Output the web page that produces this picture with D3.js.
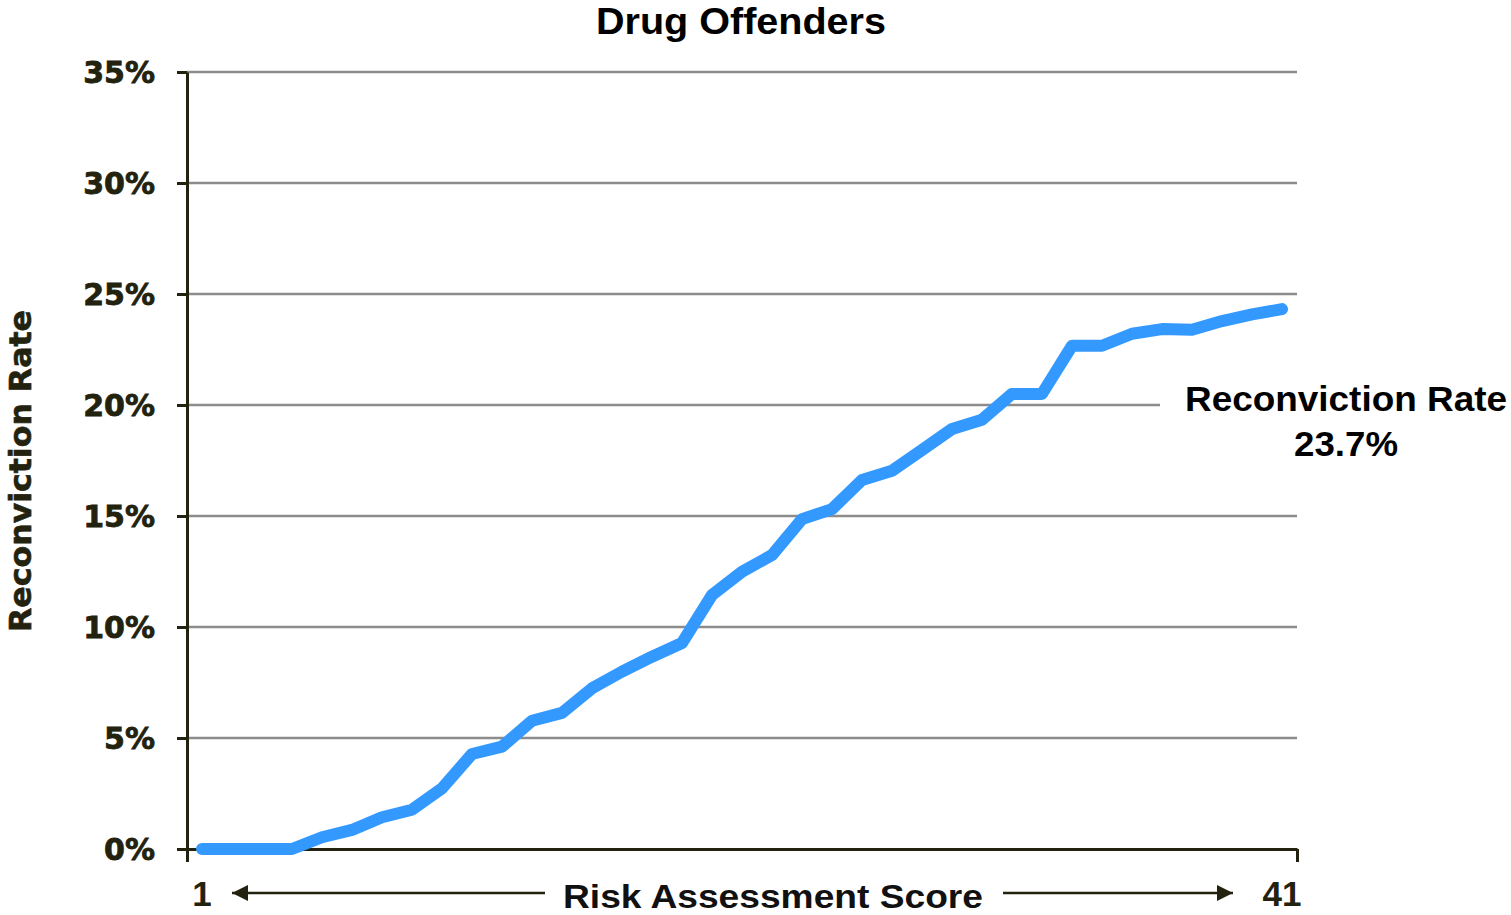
<!DOCTYPE html>
<html><head><meta charset="utf-8">
<script src="https://cdn.jsdelivr.net/npm/d3@7"></script>
<style>body{margin:0;background:#fff}svg{display:block}</style>
</head><body><svg id="c" width="1511" height="915"></svg>
<script>
// ---- data ----
const scoreBins = [1,2,3,4,5,6,7,8,9,10,11,12,13,14,15,16,17,18,19,20,21,22,23,24,25,26,27,28,29,30,31,32,33,34,35,36,37];
const reconvictionRate = [0,0,0,0,0.53,0.86,1.43,1.77,2.73,4.28,4.61,5.78,6.13,7.24,7.99,8.66,9.28,11.44,12.49,13.24,14.86,15.31,16.62,17.04,17.97,18.92,19.34,20.5,20.5,22.67,22.67,23.21,23.42,23.39,23.78,24.08,24.32];
const yTickValues = [0,5,10,15,20,25,30,35];
const xEndLabels = ["1","41"];
const titleText = "Drug Offenders";
const xAxisTitle = "Risk Assessment Score";
const yAxisTitle = "Reconviction Rate";
const annotationLines = ["Reconviction Rate","23.7%"];

// ---- layout ----
const L = 187, R = 1297, T = 72, B = 849;
const axisColor = "#22220e";
const svg = d3.select("#c");

const x = d3.scalePoint().domain(scoreBins).range([L, R]).padding(0.5);
const y = d3.scaleLinear().domain([0, 35]).range([B, T]);

// gridlines
svg.append("g").selectAll("line").data(yTickValues.filter(d => d > 0)).join("line")
  .attr("x1", L).attr("x2", R).attr("y1", d => y(d)).attr("y2", d => y(d))
  .attr("stroke", "#8c8c8c").attr("stroke-width", 2.6);

// annotation background (covers gridline)
svg.append("rect").attr("x", 1160).attr("y", 372).attr("width", 351).attr("height", 95).attr("fill", "#fff");

// y axis
const yAxis = svg.append("g").attr("transform", `translate(${L},0)`)
  .call(d3.axisLeft(y).tickValues(yTickValues).tickSize(10).tickSizeOuter(0).tickFormat(d => d + "%"));
yAxis.select(".domain").attr("stroke", axisColor).attr("stroke-width", 3);
yAxis.selectAll(".tick line").attr("stroke", axisColor).attr("stroke-width", 3);
yAxis.selectAll(".tick text").attr("x", -32).attr("dy", "0.36em")
  .attr("fill", axisColor).attr("stroke", axisColor).attr("stroke-width", 0.8)
  .style("font-family", "'DejaVu Sans'").style("font-weight", "bold").style("font-size", "30px");

// x axis
const xEdge = d3.scaleLinear().domain([0, 1]).range([L, R]);
const xAxis = svg.append("g").attr("transform", `translate(0,${B})`)
  .call(d3.axisBottom(xEdge).tickValues([0, 1]).tickSize(13).tickSizeOuter(0).tickFormat(""));
xAxis.select(".domain").attr("stroke", axisColor).attr("stroke-width", 3);
xAxis.selectAll(".tick line").attr("stroke", axisColor).attr("stroke-width", 3);

// end labels
svg.append("g").selectAll("text").data(xEndLabels).join("text")
  .attr("x", (d, i) => i === 0 ? x(scoreBins[0]) : x(scoreBins[scoreBins.length - 1]))
  .attr("y", 906).attr("text-anchor", "middle")
  .attr("fill", axisColor).style("font-family", "'Liberation Sans', Arial").style("font-weight", "bold").style("font-size", "35px")
  .text(d => d);

// arrows
const defs = svg.append("defs");
defs.append("marker").attr("id", "ah").attr("viewBox", "0 0 10 10").attr("refX", 10).attr("refY", 5)
  .attr("markerUnits", "userSpaceOnUse").attr("markerWidth", 16).attr("markerHeight", 18).attr("orient", "auto")
  .append("path").attr("d", "M0,0L10,5L0,10Z").attr("fill", axisColor);
svg.append("line").attr("x1", 545).attr("x2", 232).attr("y1", 893).attr("y2", 893)
  .attr("stroke", axisColor).attr("stroke-width", 2.5).attr("marker-end", "url(#ah)");
svg.append("line").attr("x1", 1003).attr("x2", 1233).attr("y1", 893).attr("y2", 893)
  .attr("stroke", axisColor).attr("stroke-width", 2.5).attr("marker-end", "url(#ah)");

// x axis title
svg.append("text").attr("x", 773).attr("y", 908).attr("text-anchor", "middle")
  .attr("fill", "#111").style("font-family", "'Liberation Sans', Arial").style("font-weight", "bold").style("font-size", "34px")
  .attr("textLength", 420).attr("lengthAdjust", "spacingAndGlyphs")
  .text(xAxisTitle);

// y axis title
svg.append("text").attr("transform", "translate(31,471) rotate(-90)").attr("text-anchor", "middle")
  .attr("fill", axisColor).attr("stroke", axisColor).attr("stroke-width", 0.6)
  .style("font-family", "'DejaVu Sans'").style("font-weight", "bold").style("font-size", "31px")
  .attr("textLength", 322).attr("lengthAdjust", "spacingAndGlyphs")
  .text(yAxisTitle);

// title
svg.append("text").attr("x", 741).attr("y", 34).attr("text-anchor", "middle")
  .attr("fill", "#000").style("font-family", "'Liberation Sans', Arial").style("font-weight", "bold").style("font-size", "36px")
  .attr("textLength", 290).attr("lengthAdjust", "spacingAndGlyphs")
  .text(titleText);

// line
const line = d3.line().x((d, i) => x(scoreBins[i])).y(d => y(d));
svg.append("path").datum(reconvictionRate).attr("d", line)
  .attr("fill", "none").attr("stroke", "#3399ff").attr("stroke-width", 12)
  .attr("stroke-linejoin", "round").attr("stroke-linecap", "round");

// annotation
const ann = svg.append("text").attr("fill", "#000").attr("text-anchor", "middle")
  .style("font-family", "'Liberation Sans', Arial").style("font-weight", "bold").style("font-size", "35px");
ann.selectAll("tspan").data(annotationLines).join("tspan")
  .attr("x", 1346).attr("y", (d, i) => 411 + i * 45)
  .attr("textLength", (d, i) => i === 0 ? 322 : 104)
  .attr("lengthAdjust", "spacingAndGlyphs")
  .text(d => d);
</script></body></html>
